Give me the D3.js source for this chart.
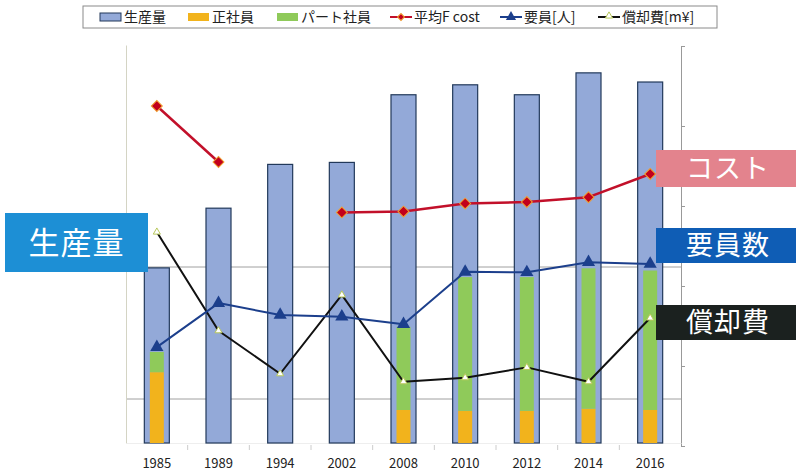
<!DOCTYPE html>
<html>
<head>
<meta charset="utf-8">
<script src="https://cdn.jsdelivr.net/npm/d3@7"></script>
<style>
  html, body { margin: 0; padding: 0; background: #fff; }
  svg { display: block; }
  text { font-family: "Noto Sans CJK JP", "Noto Sans", sans-serif; }
</style>
</head>
<body>
<svg id="chart" width="796" height="473"></svg>
<script>
// Production, staffing and cost by year
const categories   = ["1985", "1989", "1994", "2002", "2008", "2010", "2012", "2014", "2016"];
const production   = [44, 59, 70, 70.5, 87.5, 90, 87.5, 93, 90.7];          // 生産量 (index)
const regularStaff = [16.1, null, null, null, 7.5, 7.3, 7.3, 7.8, 7.5];     // 正社員
const partStaff    = [4.6, null, null, null, 18.9, 30.4, 30.4, 31.9, 31.7]; // パート社員
const headcount    = [21.8, 31.8, 29.1, 28.7, 27.0, 38.9, 38.8, 41.1, 40.7]; // 要員[人]
const avgCost      = [4.25, 3.55, null, 2.92, 2.93, 3.03, 3.05, 3.11, 3.4];  // 平均F cost
const depreciation = [26.5, 14.1, 8.7, 18.6, 7.7, 8.2, 9.5, 7.7, 15.7];     // 償却費[m¥]
const staffGrid    = [10, 40];

const legendItems = [
  { key: "生産量", kind: "bar", color: "#93a9d8", stroke: "#22395a" },
  { key: "正社員", kind: "bar", color: "#f2b31c", stroke: "none" },
  { key: "パート社員", kind: "bar", color: "#8fca5a", stroke: "none" },
  { key: "平均F cost", kind: "line", color: "#c2102a", marker: "diamond" },
  { key: "要員[人]", kind: "line", color: "#1c3f8c", marker: "triangle" },
  { key: "償却費[m¥]", kind: "line", color: "#111", marker: "smalltri" }
];

const callouts = [
  { text: "生産量", x: 5, y: 213, w: 143, h: 59, fill: "#1d8fd5", size: 31 },
  { text: "コスト", x: 656, y: 150, w: 140, h: 37, fill: "#e3838d", size: 27 },
  { text: "要員数", x: 656, y: 228, w: 140, h: 35, fill: "#0f5db5", size: 27 },
  { text: "償却費", x: 656, y: 305, w: 140, h: 35, fill: "#1b211f", size: 27 }
];

const svg = d3.select("#chart");
const plot = { left: 126, right: 681, top: 45, bottom: 443 };

const x = d3.scaleBand().domain(categories).range([plot.left, plot.right]).padding(0);
const yProd  = d3.scaleLinear().domain([0, 100]).range([plot.bottom, plot.top]);
const yStaff = d3.scaleLinear().domain([0, 90]).range([plot.bottom, 47]);
const yCost  = d3.scaleLinear().domain([0, 5]).range([446, 46]);
const yDep   = d3.scaleLinear().domain([0, 50]).range([plot.bottom, plot.top]);

const cx = c => x(c) + x.bandwidth() / 2;
const barW = 25, stackW = 14;

// gridlines
svg.append("g").selectAll("line").data(staffGrid).join("line")
  .attr("x1", plot.left).attr("x2", plot.right)
  .attr("y1", d => yStaff(d)).attr("y2", d => yStaff(d))
  .attr("stroke", "#a0a0a0").attr("stroke-width", 1);

// axes
const leftAxis = svg.append("g").attr("transform", `translate(${plot.left},0)`)
  .call(d3.axisLeft(yProd).ticks(0).tickSizeOuter(0));
leftAxis.select(".domain").attr("stroke", "#d4d4c4");

const rightAxis = svg.append("g").attr("transform", `translate(${plot.right},0)`)
  .call(d3.axisRight(yCost).ticks(5).tickSize(4).tickSizeOuter(0).tickFormat(""));
rightAxis.select(".domain").attr("stroke", "#999");
rightAxis.selectAll(".tick line").attr("stroke", "#999");

const xAxis = svg.append("g").attr("transform", `translate(0,${plot.bottom})`)
  .call(d3.axisBottom(x).tickSize(0).tickPadding(16));
xAxis.select(".domain").attr("stroke", "#eee");
xAxis.selectAll("text").attr("font-size", 13).attr("fill", "#222")
  .attr("font-family", "'Liberation Sans', Arial, sans-serif");
// category separators
svg.append("g").selectAll("line").data(categories.slice(1)).join("line")
  .attr("x1", d => x(d)).attr("x2", d => x(d))
  .attr("y1", plot.bottom + 2).attr("y2", plot.bottom + 7)
  .attr("stroke", "#ccc");

// production bars
svg.append("g").selectAll("rect").data(categories).join("rect")
  .attr("x", d => cx(d) - barW / 2)
  .attr("width", barW)
  .attr("y", (d, i) => yProd(production[i]))
  .attr("height", (d, i) => plot.bottom - yProd(production[i]))
  .attr("fill", "#93a9d8").attr("stroke", "#22395a").attr("stroke-width", 1.2);

// stacked staff bars
const stackRows = categories.map((c, i) => ({ c, reg: regularStaff[i], part: partStaff[i] }))
  .filter(r => r.reg != null);
const stacked = d3.stack().keys(["reg", "part"])(stackRows);
const stackColors = { reg: "#f2b31c", part: "#8fca5a" };
svg.append("g").selectAll("g").data(stacked).join("g")
  .attr("fill", s => stackColors[s.key])
  .selectAll("rect").data(s => s).join("rect")
  .attr("x", d => cx(d.data.c) - stackW / 2)
  .attr("width", stackW)
  .attr("y", d => yStaff(d[1]))
  .attr("height", d => yStaff(d[0]) - yStaff(d[1]));

// lines
function drawLine(values, yScale, color, width) {
  const line = d3.line()
    .defined(d => d.v != null)
    .x(d => cx(d.c)).y(d => yScale(d.v));
  const data = categories.map((c, i) => ({ c, v: values[i] }));
  svg.append("path").datum(data)
    .attr("d", line).attr("fill", "none")
    .attr("stroke", color).attr("stroke-width", width).attr("stroke-linejoin", "round");
  return data.filter(d => d.v != null);
}

// depreciation
const depPts = drawLine(depreciation, yDep, "#111", 2);
svg.append("g").selectAll("path").data(depPts).join("path")
  .attr("transform", d => `translate(${cx(d.c)},${yDep(d.v)})`)
  .attr("d", d3.symbol(d3.symbolTriangle, 22))
  .attr("fill", "#fff").attr("stroke", "#b8c85a").attr("stroke-width", 1);

// headcount
const hcPts = drawLine(headcount, yStaff, "#1c3f8c", 2);
svg.append("g").selectAll("path").data(hcPts).join("path")
  .attr("transform", d => `translate(${cx(d.c)},${yStaff(d.v)})`)
  .attr("d", d3.symbol(d3.symbolTriangle, 75))
  .attr("fill", "#1c3f8c");

// average cost
const costPts = drawLine(avgCost, yCost, "#c2102a", 2.5);
svg.append("g").selectAll("path").data(costPts).join("path")
  .attr("transform", d => `translate(${cx(d.c)},${yCost(d.v)}) rotate(45)`)
  .attr("d", d3.symbol(d3.symbolSquare, 60))
  .attr("fill", "#c2001c").attr("stroke", "#f0a030").attr("stroke-width", 1);

// legend
const lg = svg.append("g");
lg.append("rect").attr("x", 83).attr("y", 6).attr("width", 634).attr("height", 22)
  .attr("fill", "#fff").attr("stroke", "#8a8a8a");
const legendX = [100, 188, 277, 390, 500, 598];
legendItems.forEach((it, i) => {
  const g = lg.append("g").attr("transform", `translate(${legendX[i]},17)`);
  if (it.kind === "bar") {
    g.append("rect").attr("x", 0).attr("y", -4).attr("width", 21).attr("height", 8)
      .attr("fill", it.color).attr("stroke", it.stroke);
  } else {
    g.append("line").attr("x1", 0).attr("x2", 22).attr("y1", 0).attr("y2", 0)
      .attr("stroke", it.color).attr("stroke-width", 2);
    if (it.marker === "diamond") {
      g.append("path").attr("transform", "translate(11,0) rotate(45)")
        .attr("d", d3.symbol(d3.symbolSquare, 24)).attr("fill", "#c2001c").attr("stroke", "#f0a030");
    } else if (it.marker === "triangle") {
      g.append("path").attr("transform", "translate(11,0)")
        .attr("d", d3.symbol(d3.symbolTriangle, 45)).attr("fill", it.color);
    } else {
      g.append("path").attr("transform", "translate(11,-1)")
        .attr("d", d3.symbol(d3.symbolTriangle, 22)).attr("fill", "#fff").attr("stroke", "#b8c85a");
    }
  }
  g.append("text").attr("x", 24).attr("y", 0).attr("dy", "0.36em")
    .attr("font-size", 14).attr("fill", "#222").text(it.key);
});

// callout labels
const cg = svg.append("g").selectAll("g").data(callouts).join("g");
cg.append("rect").attr("x", d => d.x).attr("y", d => d.y)
  .attr("width", d => d.w).attr("height", d => d.h).attr("fill", d => d.fill);
cg.append("text").attr("x", d => d.x + d.w / 2 - (d.x > 600 ? -2 : 0))
  .attr("y", d => d.y + d.h / 2).attr("dy", "0.36em")
  .attr("text-anchor", "middle").attr("fill", "#fff")
  .attr("font-size", d => d.size).attr("letter-spacing", 1)
  .text(d => d.text);
</script>
</body>
</html>
